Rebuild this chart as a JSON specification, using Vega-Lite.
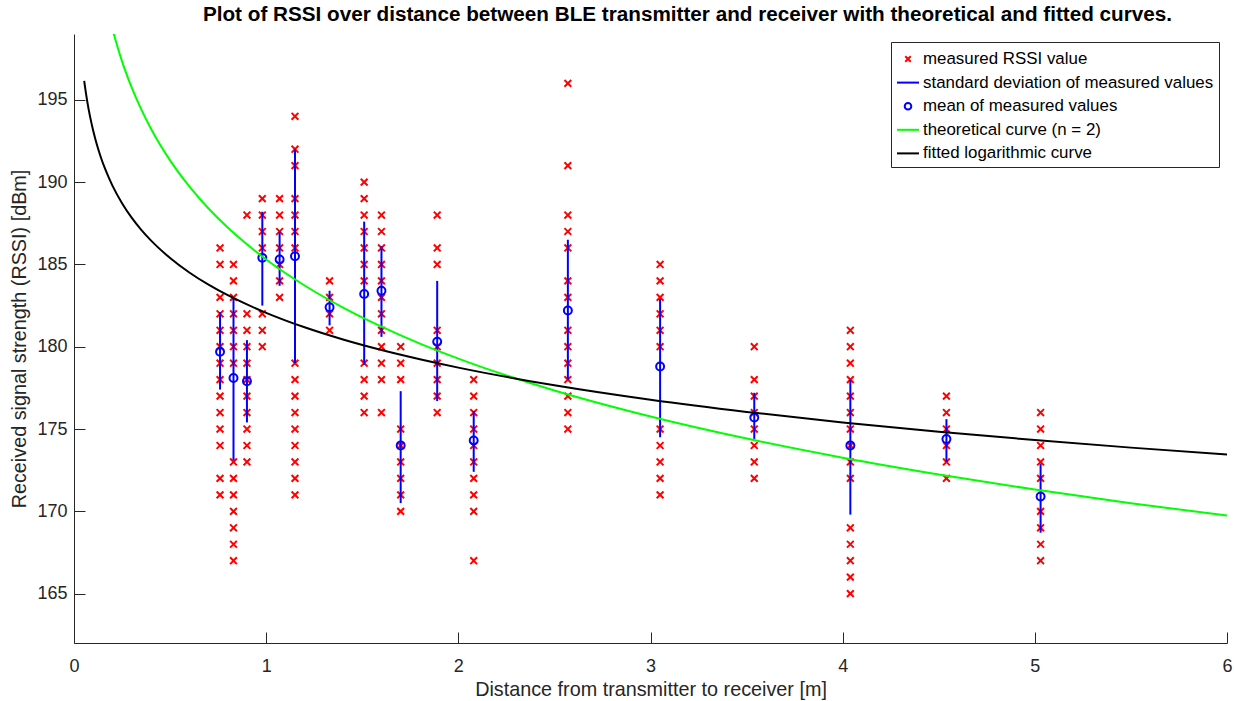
{
  "$schema": "https://vega.github.io/schema/vega-lite/v6.json",
  "width": 1153,
  "height": 609,
  "autosize": {"type": "none"},
  "padding": {"left": 74, "top": 34, "right": 7, "bottom": 58},
  "background": "white",
  "title": {
    "text": "Plot of RSSI over distance between BLE transmitter and receiver with theoretical and fitted curves.",
    "font": "Liberation Sans",
    "fontSize": 20.7,
    "fontWeight": "bold",
    "color": "#000000",
    "anchor": "middle",
    "dx": 37,
    "offset": 8
  },
  "config": {
    "view": {"stroke": null},
    "axis": {
      "labelFont": "Liberation Sans",
      "titleFont": "Liberation Sans",
      "labelFontSize": 18,
      "titleFontSize": 19.8,
      "titleFontWeight": "normal",
      "labelColor": "#262626",
      "titleColor": "#262626",
      "domainColor": "#262626",
      "tickColor": "#262626",
      "domainWidth": 1,
      "tickWidth": 1,
      "labelFlush": false,
      "grid": false
    },
    "legend": {
      "orient": "top-right",
      "offset": 8,
      "padding": 5,
      "strokeColor": "#262626",
      "fillColor": "#ffffff",
      "labelFont": "Liberation Sans",
      "labelFontSize": 16.9,
      "labelColor": "#000000",
      "labelOffset": 3,
      "labelLimit": 400,
      "symbolSize": 484,
      "symbolStrokeWidth": 2,
      "rowPadding": 3.6
    }
  },
  "datasets": {
    "measured": [
      {"d": 0.76, "rssi": 186}, {"d": 0.76, "rssi": 185}, {"d": 0.76, "rssi": 183}, {"d": 0.76, "rssi": 182}, {"d": 0.76, "rssi": 181}, {"d": 0.76, "rssi": 180}, {"d": 0.76, "rssi": 179}, {"d": 0.76, "rssi": 178}, {"d": 0.76, "rssi": 177}, {"d": 0.76, "rssi": 176}, {"d": 0.76, "rssi": 175}, {"d": 0.76, "rssi": 174}, {"d": 0.76, "rssi": 172}, {"d": 0.76, "rssi": 171},
      {"d": 0.83, "rssi": 185}, {"d": 0.83, "rssi": 184}, {"d": 0.83, "rssi": 183}, {"d": 0.83, "rssi": 182}, {"d": 0.83, "rssi": 181}, {"d": 0.83, "rssi": 180}, {"d": 0.83, "rssi": 179}, {"d": 0.83, "rssi": 173}, {"d": 0.83, "rssi": 172}, {"d": 0.83, "rssi": 171}, {"d": 0.83, "rssi": 170}, {"d": 0.83, "rssi": 169}, {"d": 0.83, "rssi": 168}, {"d": 0.83, "rssi": 167},
      {"d": 0.9, "rssi": 188}, {"d": 0.9, "rssi": 182}, {"d": 0.9, "rssi": 181}, {"d": 0.9, "rssi": 180}, {"d": 0.9, "rssi": 179}, {"d": 0.9, "rssi": 178}, {"d": 0.9, "rssi": 177}, {"d": 0.9, "rssi": 176}, {"d": 0.9, "rssi": 175}, {"d": 0.9, "rssi": 174}, {"d": 0.9, "rssi": 173},
      {"d": 0.98, "rssi": 189}, {"d": 0.98, "rssi": 188}, {"d": 0.98, "rssi": 187}, {"d": 0.98, "rssi": 186}, {"d": 0.98, "rssi": 182}, {"d": 0.98, "rssi": 181}, {"d": 0.98, "rssi": 180},
      {"d": 1.07, "rssi": 189}, {"d": 1.07, "rssi": 188}, {"d": 1.07, "rssi": 187}, {"d": 1.07, "rssi": 186}, {"d": 1.07, "rssi": 185}, {"d": 1.07, "rssi": 184}, {"d": 1.07, "rssi": 183},
      {"d": 1.15, "rssi": 194}, {"d": 1.15, "rssi": 192}, {"d": 1.15, "rssi": 191}, {"d": 1.15, "rssi": 189}, {"d": 1.15, "rssi": 188}, {"d": 1.15, "rssi": 187}, {"d": 1.15, "rssi": 186}, {"d": 1.15, "rssi": 179}, {"d": 1.15, "rssi": 178}, {"d": 1.15, "rssi": 177}, {"d": 1.15, "rssi": 176}, {"d": 1.15, "rssi": 175}, {"d": 1.15, "rssi": 174}, {"d": 1.15, "rssi": 173}, {"d": 1.15, "rssi": 172}, {"d": 1.15, "rssi": 171},
      {"d": 1.33, "rssi": 184}, {"d": 1.33, "rssi": 183}, {"d": 1.33, "rssi": 182}, {"d": 1.33, "rssi": 181},
      {"d": 1.51, "rssi": 190}, {"d": 1.51, "rssi": 189}, {"d": 1.51, "rssi": 188}, {"d": 1.51, "rssi": 187}, {"d": 1.51, "rssi": 186}, {"d": 1.51, "rssi": 185}, {"d": 1.51, "rssi": 184}, {"d": 1.51, "rssi": 179}, {"d": 1.51, "rssi": 178}, {"d": 1.51, "rssi": 177}, {"d": 1.51, "rssi": 176},
      {"d": 1.6, "rssi": 188}, {"d": 1.6, "rssi": 187}, {"d": 1.6, "rssi": 186}, {"d": 1.6, "rssi": 185}, {"d": 1.6, "rssi": 184}, {"d": 1.6, "rssi": 183}, {"d": 1.6, "rssi": 182}, {"d": 1.6, "rssi": 181}, {"d": 1.6, "rssi": 180}, {"d": 1.6, "rssi": 179}, {"d": 1.6, "rssi": 178}, {"d": 1.6, "rssi": 176},
      {"d": 1.7, "rssi": 180}, {"d": 1.7, "rssi": 179}, {"d": 1.7, "rssi": 178}, {"d": 1.7, "rssi": 175}, {"d": 1.7, "rssi": 174}, {"d": 1.7, "rssi": 173}, {"d": 1.7, "rssi": 172}, {"d": 1.7, "rssi": 171}, {"d": 1.7, "rssi": 170},
      {"d": 1.89, "rssi": 188}, {"d": 1.89, "rssi": 186}, {"d": 1.89, "rssi": 185}, {"d": 1.89, "rssi": 181}, {"d": 1.89, "rssi": 180}, {"d": 1.89, "rssi": 179}, {"d": 1.89, "rssi": 178}, {"d": 1.89, "rssi": 177}, {"d": 1.89, "rssi": 176},
      {"d": 2.08, "rssi": 178}, {"d": 2.08, "rssi": 177}, {"d": 2.08, "rssi": 176}, {"d": 2.08, "rssi": 175}, {"d": 2.08, "rssi": 174}, {"d": 2.08, "rssi": 173}, {"d": 2.08, "rssi": 172}, {"d": 2.08, "rssi": 171}, {"d": 2.08, "rssi": 170}, {"d": 2.08, "rssi": 167},
      {"d": 2.57, "rssi": 196}, {"d": 2.57, "rssi": 191}, {"d": 2.57, "rssi": 188}, {"d": 2.57, "rssi": 187}, {"d": 2.57, "rssi": 186}, {"d": 2.57, "rssi": 184}, {"d": 2.57, "rssi": 183}, {"d": 2.57, "rssi": 181}, {"d": 2.57, "rssi": 180}, {"d": 2.57, "rssi": 179}, {"d": 2.57, "rssi": 178}, {"d": 2.57, "rssi": 177}, {"d": 2.57, "rssi": 176}, {"d": 2.57, "rssi": 175},
      {"d": 3.05, "rssi": 185}, {"d": 3.05, "rssi": 184}, {"d": 3.05, "rssi": 183}, {"d": 3.05, "rssi": 182}, {"d": 3.05, "rssi": 181}, {"d": 3.05, "rssi": 180}, {"d": 3.05, "rssi": 175}, {"d": 3.05, "rssi": 174}, {"d": 3.05, "rssi": 173}, {"d": 3.05, "rssi": 172}, {"d": 3.05, "rssi": 171},
      {"d": 3.54, "rssi": 180}, {"d": 3.54, "rssi": 178}, {"d": 3.54, "rssi": 177}, {"d": 3.54, "rssi": 176}, {"d": 3.54, "rssi": 175}, {"d": 3.54, "rssi": 174}, {"d": 3.54, "rssi": 173}, {"d": 3.54, "rssi": 172},
      {"d": 4.04, "rssi": 181}, {"d": 4.04, "rssi": 180}, {"d": 4.04, "rssi": 179}, {"d": 4.04, "rssi": 178}, {"d": 4.04, "rssi": 177}, {"d": 4.04, "rssi": 176}, {"d": 4.04, "rssi": 175}, {"d": 4.04, "rssi": 174}, {"d": 4.04, "rssi": 173}, {"d": 4.04, "rssi": 172}, {"d": 4.04, "rssi": 169}, {"d": 4.04, "rssi": 168}, {"d": 4.04, "rssi": 167}, {"d": 4.04, "rssi": 166}, {"d": 4.04, "rssi": 165},
      {"d": 4.54, "rssi": 177}, {"d": 4.54, "rssi": 176}, {"d": 4.54, "rssi": 175}, {"d": 4.54, "rssi": 174}, {"d": 4.54, "rssi": 173}, {"d": 4.54, "rssi": 172},
      {"d": 5.03, "rssi": 176}, {"d": 5.03, "rssi": 175}, {"d": 5.03, "rssi": 174}, {"d": 5.03, "rssi": 173}, {"d": 5.03, "rssi": 172}, {"d": 5.03, "rssi": 170}, {"d": 5.03, "rssi": 169}, {"d": 5.03, "rssi": 168}, {"d": 5.03, "rssi": 167}
    ],
    "stats": [
      {"d": 0.76, "mean": 179.7, "lo": 177.4, "hi": 182.1},
      {"d": 0.83, "mean": 178.1, "lo": 173.1, "hi": 183.0},
      {"d": 0.9, "mean": 177.9, "lo": 175.4, "hi": 180.4},
      {"d": 0.98, "mean": 185.4, "lo": 182.5, "hi": 188.2},
      {"d": 1.07, "mean": 185.3, "lo": 183.7, "hi": 187.0},
      {"d": 1.15, "mean": 185.5, "lo": 179.0, "hi": 192.0},
      {"d": 1.33, "mean": 182.4, "lo": 181.3, "hi": 183.4},
      {"d": 1.51, "mean": 183.2, "lo": 178.9, "hi": 187.6},
      {"d": 1.6, "mean": 183.4, "lo": 180.6, "hi": 186.1},
      {"d": 1.7, "mean": 174.0, "lo": 170.5, "hi": 177.3},
      {"d": 1.89, "mean": 180.3, "lo": 176.7, "hi": 184.0},
      {"d": 2.08, "mean": 174.3, "lo": 172.4, "hi": 176.1},
      {"d": 2.57, "mean": 182.2, "lo": 178.0, "hi": 186.5},
      {"d": 3.05, "mean": 178.8, "lo": 174.5, "hi": 182.9},
      {"d": 3.54, "mean": 175.7, "lo": 174.4, "hi": 177.2},
      {"d": 4.04, "mean": 174.0, "lo": 169.8, "hi": 178.0},
      {"d": 4.54, "mean": 174.4, "lo": 173.0, "hi": 175.6},
      {"d": 5.03, "mean": 170.9, "lo": 168.7, "hi": 172.9}
    ],
    "theoretical": [
      {"d": 0.2, "rssi": 199.28}, {"d": 0.25, "rssi": 197.34}, {"d": 0.3, "rssi": 195.76}, {"d": 0.35, "rssi": 194.42}, {"d": 0.4, "rssi": 193.26}, {"d": 0.5, "rssi": 191.32}, {"d": 0.6, "rssi": 189.74}, {"d": 0.7, "rssi": 188.4}, {"d": 0.8, "rssi": 187.24}, {"d": 0.9, "rssi": 186.22}, {"d": 1.0, "rssi": 185.3}, {"d": 1.2, "rssi": 183.72}, {"d": 1.4, "rssi": 182.38}, {"d": 1.6, "rssi": 181.22}, {"d": 1.8, "rssi": 180.19}, {"d": 2.0, "rssi": 179.28}, {"d": 2.5, "rssi": 177.34}, {"d": 3.0, "rssi": 175.76}, {"d": 3.5, "rssi": 174.42}, {"d": 4.0, "rssi": 173.26}, {"d": 4.5, "rssi": 172.24}, {"d": 5.0, "rssi": 171.32}, {"d": 5.5, "rssi": 170.49}, {"d": 6.0, "rssi": 169.74}
    ],
    "fitted": [
      {"d": 0.053, "rssi": 196.15}, {"d": 0.06, "rssi": 195.57}, {"d": 0.07, "rssi": 194.83}, {"d": 0.08, "rssi": 194.19}, {"d": 0.09, "rssi": 193.63}, {"d": 0.1, "rssi": 193.12}, {"d": 0.12, "rssi": 192.24}, {"d": 0.14, "rssi": 191.5}, {"d": 0.16, "rssi": 190.86}, {"d": 0.18, "rssi": 190.3}, {"d": 0.2, "rssi": 189.79}, {"d": 0.25, "rssi": 188.72}, {"d": 0.3, "rssi": 187.84}, {"d": 0.35, "rssi": 187.1}, {"d": 0.4, "rssi": 186.46}, {"d": 0.5, "rssi": 185.39}, {"d": 0.6, "rssi": 184.51}, {"d": 0.7, "rssi": 183.77}, {"d": 0.8, "rssi": 183.13}, {"d": 0.9, "rssi": 182.57}, {"d": 1.0, "rssi": 182.06}, {"d": 1.2, "rssi": 181.18}, {"d": 1.4, "rssi": 180.44}, {"d": 1.6, "rssi": 179.8}, {"d": 1.8, "rssi": 179.24}, {"d": 2.0, "rssi": 178.73}, {"d": 2.5, "rssi": 177.66}, {"d": 3.0, "rssi": 176.78}, {"d": 3.5, "rssi": 176.04}, {"d": 4.0, "rssi": 175.4}, {"d": 4.5, "rssi": 174.84}, {"d": 5.0, "rssi": 174.33}, {"d": 5.5, "rssi": 173.87}, {"d": 6.0, "rssi": 173.45}
    ]
  },
  "encoding": {
    "x": {
      "type": "quantitative",
      "scale": {"domain": [0, 6], "nice": false, "zero": false},
      "axis": {
        "title": "Distance from transmitter to receiver [m]",
        "values": [0, 1, 2, 3, 4, 5, 6],
        "format": "d",
        "tickSize": -11,
        "labelPadding": 25,
        "titlePadding": 4
      }
    },
    "y": {
      "type": "quantitative",
      "scale": {"domain": [162, 199], "nice": false, "zero": false},
      "axis": {
        "title": "Received signal strength (RSSI) [dBm]",
        "values": [165, 170, 175, 180, 185, 190, 195],
        "tickSize": -11,
        "labelPadding": 18,
        "titlePadding": 7
      }
    }
  },
  "layer": [
    {
      "data": {"name": "measured"},
      "mark": {"type": "point", "filled": false, "size": 740, "strokeWidth": 2, "opacity": 1, "clip": true},
      "encoding": {
        "x": {"field": "d"},
        "y": {"field": "rssi"},
        "color": {
          "datum": "measured RSSI value",
          "type": "nominal",
          "scale": {
            "domain": ["measured RSSI value", "standard deviation of measured values", "mean of measured values", "theoretical curve (n = 2)", "fitted logarithmic curve"],
            "range": ["#ff0000", "#0000ff", "#0000ff", "#00ff00", "#000000"]
          },
          "legend": {"title": null}
        },
        "shape": {
          "datum": "measured RSSI value",
          "type": "nominal",
          "scale": {
            "domain": ["measured RSSI value", "standard deviation of measured values", "mean of measured values", "theoretical curve (n = 2)", "fitted logarithmic curve"],
            "range": ["M-0.25,-0.25L0.25,0.25M0.25,-0.25L-0.25,0.25", "stroke", "M0.3,0A0.3,0.3,0,1,1,-0.3,0A0.3,0.3,0,1,1,0.3,0Z", "stroke", "stroke"]
          },
          "legend": {"title": null}
        }
      }
    },
    {
      "data": {"name": "stats"},
      "mark": {"type": "rule", "strokeWidth": 2, "clip": true},
      "encoding": {
        "x": {"field": "d"},
        "y": {"field": "lo"},
        "y2": {"field": "hi"},
        "color": {"datum": "standard deviation of measured values", "type": "nominal"}
      }
    },
    {
      "data": {"name": "stats"},
      "mark": {"type": "point", "filled": false, "size": 700, "strokeWidth": 2, "opacity": 1, "clip": true},
      "encoding": {
        "x": {"field": "d"},
        "y": {"field": "mean"},
        "color": {"datum": "mean of measured values", "type": "nominal"},
        "shape": {"datum": "mean of measured values", "type": "nominal"}
      }
    },
    {
      "data": {"name": "theoretical"},
      "mark": {"type": "line", "strokeWidth": 2, "interpolate": "monotone", "clip": true},
      "encoding": {
        "x": {"field": "d"},
        "y": {"field": "rssi"},
        "color": {"datum": "theoretical curve (n = 2)", "type": "nominal"}
      }
    },
    {
      "data": {"name": "fitted"},
      "mark": {"type": "line", "strokeWidth": 2, "interpolate": "monotone", "clip": true},
      "encoding": {
        "x": {"field": "d"},
        "y": {"field": "rssi"},
        "color": {"datum": "fitted logarithmic curve", "type": "nominal"}
      }
    }
  ]
}
